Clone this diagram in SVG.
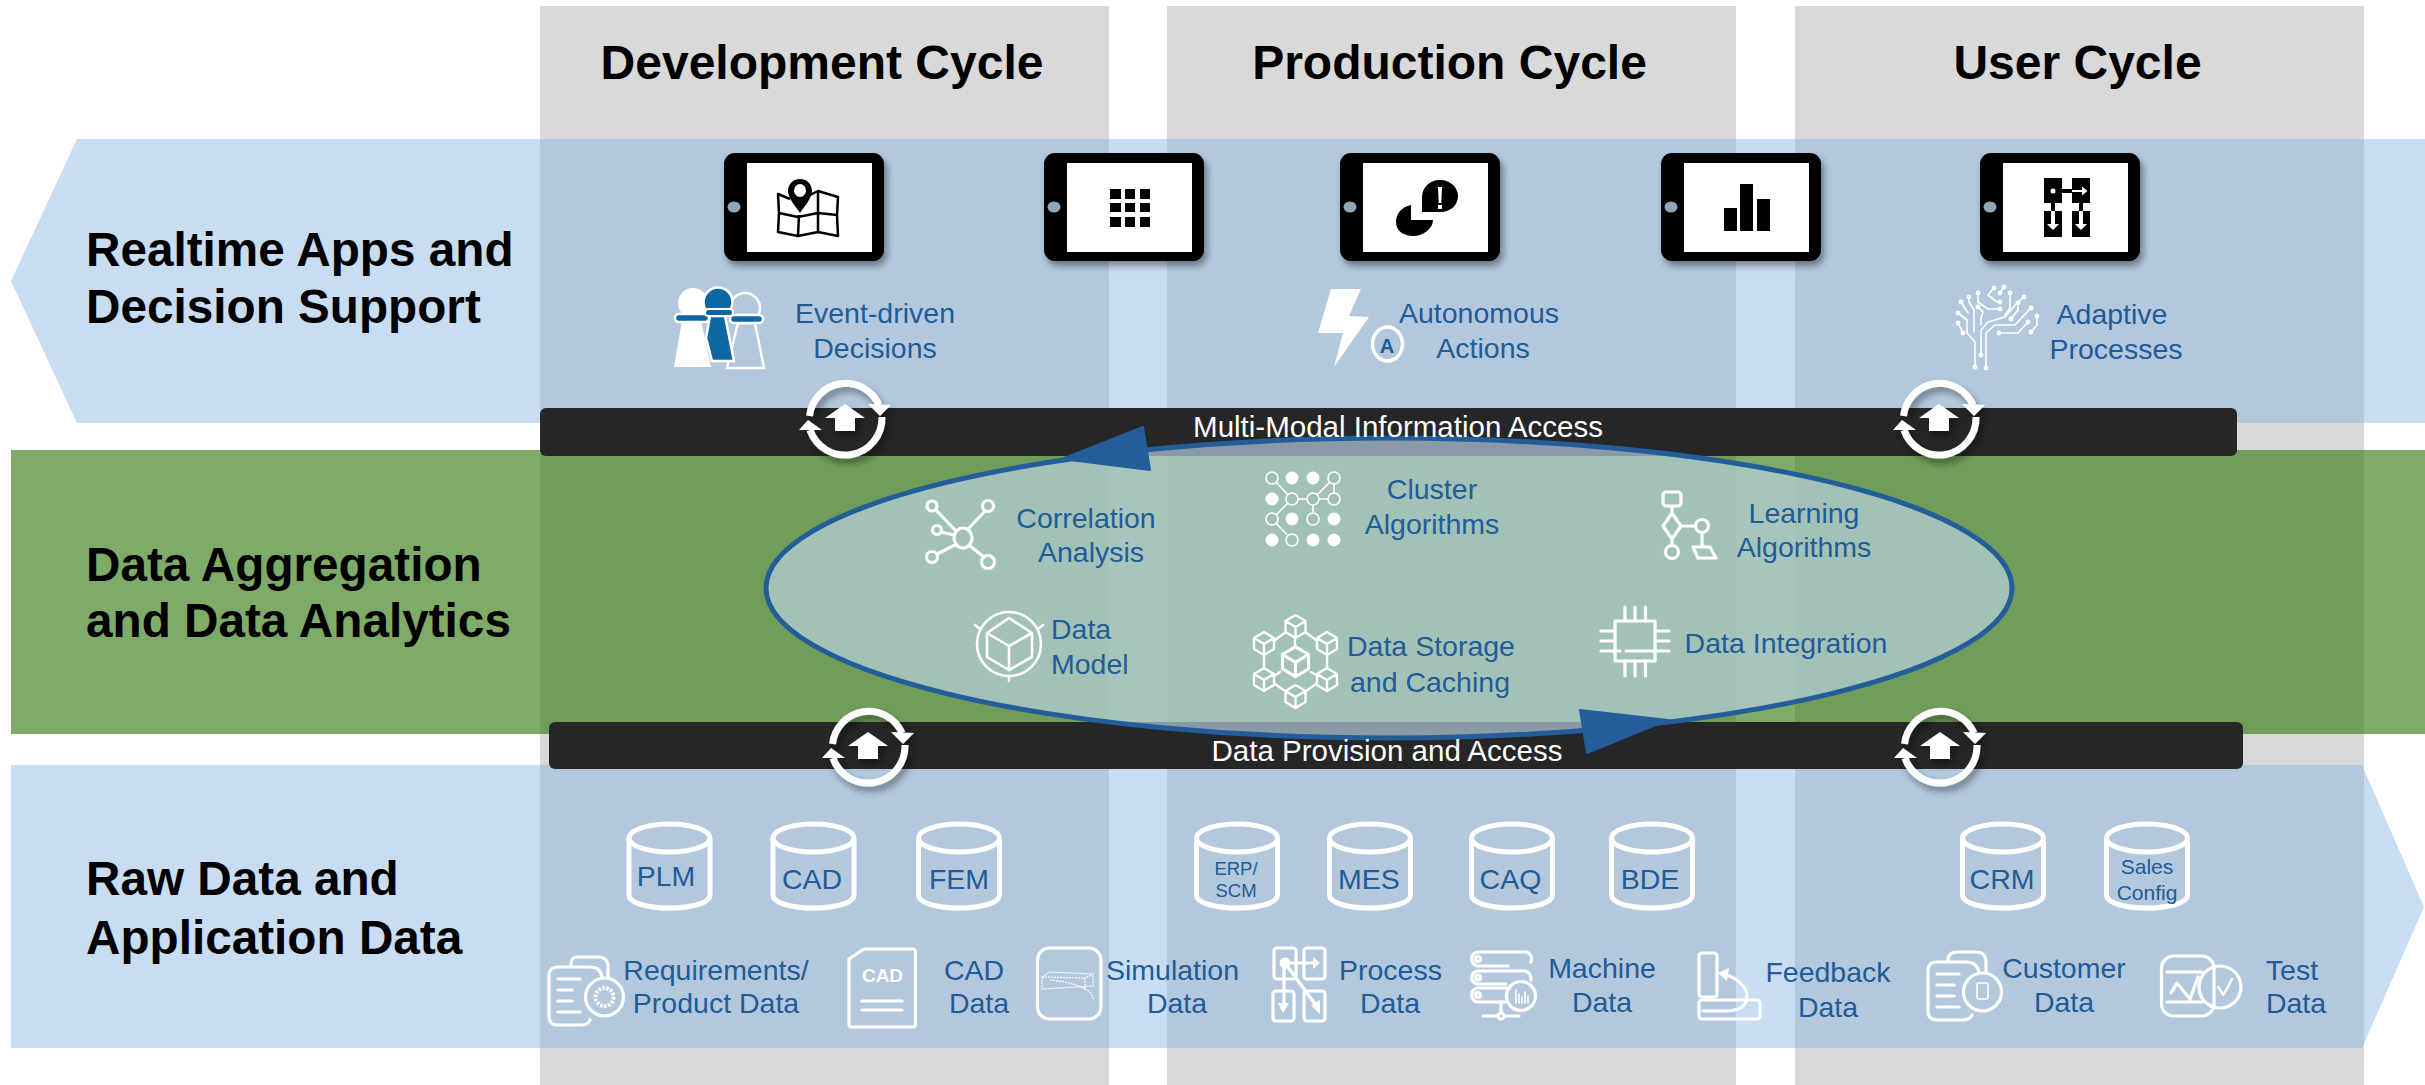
<svg xmlns="http://www.w3.org/2000/svg" xmlns:xlink="http://www.w3.org/1999/xlink" width="2425" height="1085" viewBox="0 0 2425 1085">
<style>
text{font-family:"Liberation Sans",Arial,sans-serif}
.col{fill:#d9d9d9}
.band{fill:rgb(133,180,226);fill-opacity:.45}
.head{font-size:48px;font-weight:bold;fill:#000;text-anchor:middle}
.side{font-size:47.7px;font-weight:bold;fill:#000}
.lbl{font-size:28.5px;fill:#215c98;text-anchor:middle}
.bar{fill:#262626}
.bart{font-size:29.5px;fill:#fff;text-anchor:middle}
.ic{fill:none;stroke:#fff;stroke-width:3.2;stroke-linejoin:round;stroke-linecap:round}
.thin{fill:none;stroke:#fff;stroke-width:1.6;stroke-linejoin:round;stroke-linecap:round}
.w{fill:#fff}
.db{fill:none;stroke:#fff;stroke-width:5}
.b{fill:#000}
</style>
<defs>
<filter id="sh" x="-20%" y="-20%" width="150%" height="150%"><feDropShadow dx="3" dy="5" stdDeviation="3.5" flood-color="#000" flood-opacity=".4"/></filter>
<g id="tablet">
<rect x="0" y="0" width="160" height="108" rx="11" fill="#000" filter="url(#sh)"/>
<rect x="23" y="10" width="125" height="89" fill="#fff"/>
<ellipse cx="10" cy="54" rx="6.500" ry="5.500" fill="#8fa5ba"/>
</g>
<g id="cycle" filter="url(#sh)">
<path d="M-35.500 -2A36.500 37 0 0 1 34 -13" fill="none" stroke="#fff" stroke-width="7"/>
<path d="M37 -1A37 37 0 0 1 -35 12" fill="none" stroke="#fff" stroke-width="7"/>
<polygon class="w" points="23,-14 46,-13 35,-2"/>
<polygon class="w" points="-46,12 -23,12 -37,2"/>
<polygon class="w" points="0,-14 20,0 10,0 10,13 -10,13 -10,0 -20,0"/>
</g>
<g id="db">
<path class="db" d="M-40.500 -42V15C-40.500 23 -22 28 0 28C22 28 40.500 23 40.500 15V-42"/>
<ellipse class="db" cx="0" cy="-42" rx="40.500" ry="14"/>
</g>
<g id="cube"><path class="ic" d="M0 -11L10 -5V6L0 12L-10 6V-5ZM-10 -5L0 1L10 -5M0 1V12" style="stroke-width:2.400"/></g>
</defs>

<g id="columns">
<rect class="col" x="540" y="6" width="569" height="1079"/>
<rect class="col" x="1167" y="6" width="569" height="1079"/>
<rect class="col" x="1795" y="6" width="569" height="1079"/>
</g>
<g id="bands">
<polygon class="band" points="77,139 2425,139 2425,423 77,423 11,281"/>
<rect x="11" y="450" width="2414" height="284" fill="rgb(52,122,16)" fill-opacity=".63"/>
<polygon class="band" points="11,765 2362,765 2424,907 2362,1048 11,1048"/>
</g>

<g id="bars">
<rect class="bar" x="540" y="408" width="1697" height="48" rx="6"/>
<rect class="bar" x="549" y="722" width="1694" height="47" rx="6"/>
</g>

<g id="connectors">
<ellipse cx="1389" cy="588" rx="623" ry="150" fill="#bad2e6" fill-opacity=".67" stroke="#245e9a" stroke-width="5"/>
<polygon points="1062,459 1143,427 1150,470" fill="#245e9a" stroke="#245e9a" stroke-width="2" stroke-linejoin="round"/>
<polygon points="1668,720 1580,710 1587,753" fill="#245e9a" stroke="#245e9a" stroke-width="2" stroke-linejoin="round"/>
</g>

<g id="col-heads">
<text class="head" x="822" y="79">Development Cycle</text>
<text class="head" x="1449.500" y="79">Production Cycle</text>
<text class="head" x="2077.500" y="79">User Cycle</text>
</g>
<g id="side-labels">
<text class="side" x="86" y="266">Realtime Apps and</text>
<text class="side" x="86" y="323">Decision Support</text>
<text class="side" x="86" y="581">Data Aggregation</text>
<text class="side" x="86" y="637">and Data Analytics</text>
<text class="side" x="86" y="895">Raw Data and</text>
<text class="side" x="86" y="954">Application Data</text>
</g>

<g id="tablet-map">
<use xlink:href="#tablet" href="#tablet" x="724" y="153"/>
<path fill="none" stroke="#000" stroke-width="2.500" stroke-linejoin="round" d="M790 199L778 194L779 213L778 232L798 236L818 232L838 236L837 215L838 197L818 191L810 195M779 213L798 217L818 213L837 215M799 215L798 236M818 191V232"/>
<path fill="#000" d="M800 179C792.500 179 788 185 788 191C788 198 796 207 800 213C804 207 812 198 812 191C812 185 807.500 179 800 179Z"/>
<ellipse cx="800" cy="190.500" rx="6" ry="6.500" fill="#fff"/>
</g>
<g id="tablet-grid">
<use xlink:href="#tablet" href="#tablet" x="1044" y="153"/>
<path fill="#000" d="M1110 189h11v10h-11zM1125 189h10v10h-10zM1140 189h10v10h-10zM1110 203h11v9h-11zM1125 203h10v9h-10zM1140 203h10v9h-10zM1110 217h11v10h-11zM1125 217h10v10h-10zM1140 217h10v10h-10z"/>
</g>
<g id="tablet-alert">
<use xlink:href="#tablet" href="#tablet" x="1340" y="153"/>
<path fill="#000" d="M1411 205C1401 207 1396 214 1396 222C1396 231 1404 236 1413 236C1424 236 1433 228 1433 220H1411Z"/>
<path fill="#000" d="M1440 180C1429 180 1422 188 1422 197V212H1440C1451 212 1458 205 1458 196C1458 188 1451 180 1440 180Z"/>
<path fill="#fff" d="M1438 187h4l-.7 16h-2.600zM1438 205h4v4h-4z"/>
</g>
<g id="tablet-chart">
<use xlink:href="#tablet" href="#tablet" x="1661" y="153"/>
<path fill="#000" d="M1724 208h13v23h-13zM1740 184h13v47h-13zM1757 199h13v32h-13z"/>
</g>
<g id="tablet-process">
<use xlink:href="#tablet" href="#tablet" x="1980" y="153"/>
<path fill="#000" d="M2044 178h18v25h-18zM2072 178h18v25h-18zM2044 211h18v26h-18zM2072 211h18v26h-18zM2062 189h10v4h-10zM2051 203h4v8h-4zM2079 203h4v8h-4z"/>
<circle cx="2053" cy="191" r="2.500" fill="#fff"/>
<path fill="#fff" d="M2072 190h10v-3.500l5.500 4.500l-5.500 4.500v-3.500h-10zM2051 211h4v13h4l-6 6l-6 -6h4zM2079 211h4v13h4l-6 6l-6 -6h4z"/>
</g>

<g id="event-driven">
<g>
<circle cx="693" cy="303" r="15" class="w"/>
<path class="w" d="M682 320H701L711 367H674Z"/>
<rect x="675" y="314" width="34" height="8" rx="4" fill="#0f66a5" stroke="#fff" stroke-width="2.500"/>
<path d="M738 323H755L764 368H727Z" fill="none" stroke="#fff" stroke-width="2.500"/>
<circle cx="745" cy="308" r="15" fill="none" stroke="#fff" stroke-width="2.500"/>
<rect x="730" y="315" width="33" height="8" rx="4" fill="#0f66a5" stroke="#fff" stroke-width="2.500"/>
<circle cx="718" cy="302" r="14.500" fill="#0f66a5" stroke="#fff" stroke-width="2.500"/>
<path d="M710 316H725L734 361H712L706 338Z" fill="#0f66a5" stroke="#fff" stroke-width="2.500"/>
<rect x="705" y="309" width="28" height="7" rx="3.500" fill="#0f66a5" stroke="#fff" stroke-width="2"/>
</g>
<text class="lbl" x="875" y="323">Event-driven</text>
<text class="lbl" x="875" y="358">Decisions</text>
</g>
<g id="autonomous">
<polygon class="w" points="1331,289 1361,289 1349,316 1369,317 1334,367 1343,333 1318,333"/>
<ellipse cx="1387.500" cy="344" rx="15" ry="17" fill="none" stroke="#fff" stroke-width="3.500"/>
<text x="1387" y="353" font-size="20" font-weight="bold" fill="#215c98" text-anchor="middle">A</text>
<text class="lbl" x="1479" y="323">Autonomous</text>
<text class="lbl" x="1483" y="358">Actions</text>
</g>
<g id="adaptive">
<path class="thin" d="M1975 367V342L1967 333V320L1958 313M1981 355V330L1988 322L2005 317L2017 303L2024 297M1986 368V333L1995 325H2015L2031 308M1999 333H2018L2028 322M1974 332V310L1969 302V297M1963 333L1958 323M1968 313L1961 302M1981 325V318L1983 312L1978 307M1978 293V302L1988 309H2000M1994 288L1988 295L1997 302H2000M2000 293L2004 287M2010 293V308L2005 315M2011 319L2018 310V303M2031 332L2037 325V316"/>
<g class="thin"><circle cx="1975" cy="367" r="1.600"/><circle cx="1981" cy="355" r="1.600"/><circle cx="1986" cy="368" r="1.600"/><circle cx="1958" cy="313" r="1.600"/><circle cx="2024" cy="297" r="1.600"/><circle cx="2031" cy="308" r="1.600"/><circle cx="1999" cy="333" r="1.600"/><circle cx="2028" cy="322" r="1.600"/><circle cx="1969" cy="297" r="1.600"/><circle cx="1963" cy="333" r="1.600"/><circle cx="1958" cy="323" r="1.600"/><circle cx="1961" cy="302" r="1.600"/><circle cx="1978" cy="307" r="1.600"/><circle cx="1978" cy="293" r="1.600"/><circle cx="2000" cy="309" r="1.600"/><circle cx="1994" cy="288" r="1.600"/><circle cx="2000" cy="302" r="1.600"/><circle cx="2000" cy="293" r="1.600"/><circle cx="2004" cy="287" r="1.600"/><circle cx="2010" cy="293" r="1.600"/><circle cx="2011" cy="319" r="1.600"/><circle cx="2018" cy="303" r="1.600"/><circle cx="2031" cy="332" r="1.600"/><circle cx="2037" cy="316" r="1.600"/></g>
<text class="lbl" x="2112" y="324">Adaptive</text>
<text class="lbl" x="2116" y="359">Processes</text>
</g>

<g id="cycle-top-left"><use xlink:href="#cycle" href="#cycle" x="845" y="418"/></g>
<g id="cycle-top-right"><use xlink:href="#cycle" href="#cycle" x="1939" y="418"/></g>
<g id="cycle-bottom-left"><use xlink:href="#cycle" href="#cycle" x="868" y="746"/></g>
<g id="cycle-bottom-right"><use xlink:href="#cycle" href="#cycle" x="1940" y="746"/></g>

<text id="multi-modal" class="bart" x="1398" y="437">Multi-Modal Information Access</text>
<text id="data-provision" class="bart" x="1387" y="761">Data Provision and Access</text>

<g id="correlation">
<path class="ic" d="M956 531L936 510M968 529L985 511M954 535L941 532M955 545L937 554M970 546L984 557"/>
<ellipse class="ic" cx="963" cy="538" rx="9" ry="10"/>
<circle class="ic" cx="932" cy="506" r="5"/><circle class="ic" cx="988" cy="506" r="5.500"/><circle class="ic" cx="937" cy="530" r="4.500"/><circle class="ic" cx="932" cy="557" r="5.500"/><circle class="ic" cx="988" cy="562" r="6.500"/>
<text class="lbl" x="1086" y="528">Correlation</text>
<text class="lbl" x="1091" y="562">Analysis</text>
</g>
<g id="cluster">
<path class="thin" d="M1272 478L1292 499H1334M1313 499L1334 478V499M1292 499L1272 519L1292 540M1313 499V519"/>
<g class="thin" style="fill:#a3c0b8"><circle cx="1272" cy="478" r="6"/><circle cx="1334" cy="478" r="6"/><circle cx="1292" cy="499" r="6"/><circle cx="1313" cy="499" r="6"/><circle cx="1334" cy="499" r="6"/><circle cx="1272" cy="519" r="6"/><circle cx="1313" cy="519" r="6"/><circle cx="1292" cy="540" r="6"/></g>
<g class="w"><circle cx="1292" cy="478" r="6.500"/><circle cx="1313" cy="478" r="6.500"/><circle cx="1272" cy="499" r="6.500"/><circle cx="1292" cy="519" r="6.500"/><circle cx="1334" cy="519" r="6.500"/><circle cx="1272" cy="540" r="6.500"/><circle cx="1313" cy="540" r="6.500"/><circle cx="1334" cy="540" r="6.500"/></g>
<text class="lbl" x="1432" y="499">Cluster</text>
<text class="lbl" x="1432" y="534">Algorithms</text>
</g>
<g id="learning">
<rect class="ic" x="1663" y="492" width="18" height="14" rx="3"/>
<path class="ic" d="M1672 506V513M1672 513L1681 526L1672 539L1663 526ZM1681 526H1695M1672 539V545M1702 533V547M1693 547H1710L1716 558H1698Z"/>
<circle class="ic" cx="1702" cy="526" r="6.500"/><circle class="ic" cx="1672" cy="552" r="6.500"/>
<text class="lbl" x="1804" y="523">Learning</text>
<text class="lbl" x="1804" y="557">Algorithms</text>
</g>
<g id="data-model">
<circle class="ic" cx="1009" cy="644" r="32" style="stroke-width:2.600"/>
<path class="ic" style="stroke-width:2.600" d="M1009 618L1032 633V657L1009 670L987 657V633ZM987 633L1009 646L1032 633M1009 646V670M1009 676V681M975 625L980 629M1043 625L1038 629"/>
<text class="lbl" x="1051" y="639" style="text-anchor:start">Data</text>
<text class="lbl" x="1051" y="674" style="text-anchor:start">Model</text>
</g>
<g id="data-storage">
<path class="thin" style="stroke-width:2.400" d="M1305 632L1316 640M1286 632L1275 640M1264 656V667M1327 656V667M1275 684L1285 691M1316 684L1306 691M1295 639V645M1280 672L1274 676M1311 672L1318 676"/>
<use xlink:href="#cube" href="#cube" x="1295.500" y="626"/><use xlink:href="#cube" href="#cube" x="1327" y="643"/><use xlink:href="#cube" href="#cube" x="1327" y="679"/><use xlink:href="#cube" href="#cube" x="1295.500" y="696"/><use xlink:href="#cube" href="#cube" x="1264" y="679"/><use xlink:href="#cube" href="#cube" x="1264" y="643"/>
<use xlink:href="#cube" href="#cube" transform="translate(1295.500 661) scale(1.3)"/>
<text class="lbl" x="1431" y="656">Data Storage</text>
<text class="lbl" x="1430" y="692">and Caching</text>
</g>
<g id="data-integration">
<rect class="ic" x="1615" y="621" width="40" height="40"/>
<path class="ic" d="M1625 607V621M1635 607V621M1645.500 607V621M1625 661V676M1635 661V676M1645.500 661V676M1601 631H1615M1601 641H1615M1601 651H1620M1655 631H1669M1655 641H1669M1655 651H1669M1626 651H1654"/>
<text class="lbl" x="1786" y="653">Data Integration</text>
</g>

<g id="db-plm"><use xlink:href="#db" href="#db" x="669.500" y="880"/><text class="lbl" x="666" y="886">PLM</text></g>
<g id="db-cad"><use xlink:href="#db" href="#db" x="813.500" y="880"/><text class="lbl" x="812" y="889">CAD</text></g>
<g id="db-fem"><use xlink:href="#db" href="#db" x="959" y="880"/><text class="lbl" x="959" y="889">FEM</text></g>
<g id="db-erp"><use xlink:href="#db" href="#db" x="1237" y="880"/><text class="lbl" x="1236" y="875" style="font-size:18.500px">ERP/</text><text class="lbl" x="1236" y="897" style="font-size:18.500px">SCM</text></g>
<g id="db-mes"><use xlink:href="#db" href="#db" x="1370" y="880"/><text class="lbl" x="1369" y="889">MES</text></g>
<g id="db-caq"><use xlink:href="#db" href="#db" x="1512" y="880"/><text class="lbl" x="1510.500" y="889">CAQ</text></g>
<g id="db-bde"><use xlink:href="#db" href="#db" x="1652" y="880"/><text class="lbl" x="1650" y="889">BDE</text></g>
<g id="db-crm"><use xlink:href="#db" href="#db" x="2003" y="880"/><text class="lbl" x="2002" y="889">CRM</text></g>
<g id="db-sales"><use xlink:href="#db" href="#db" x="2147" y="880"/><text class="lbl" x="2147" y="874" style="font-size:21px">Sales</text><text class="lbl" x="2147" y="900" style="font-size:21px">Config</text></g>

<g id="requirements">
<path class="ic" d="M571 967V964Q571 957 578 957H598Q608 957 608 967V978M590 1020Q588 1025 582 1025H558Q549 1025 549 1016V976Q549 967 558 967H590Q601 967 602 978"/>
<path class="ic" d="M558 979H580M558 990H572M558 1001H572M558 1012H580"/>
<circle class="ic" cx="604.500" cy="997" r="19"/>
<circle cx="604.500" cy="997" r="9" fill="none" stroke="#fff" stroke-width="4" stroke-dasharray="2.500 1.500"/>
<text class="lbl" x="716" y="980">Requirements/</text>
<text class="lbl" x="716" y="1013">Product Data</text>
</g>
<g id="cad-data">
<path class="ic" d="M849 959L864 949H912Q915.500 949 915.500 952V1024Q915.500 1027 912 1027H852Q849 1027 849 1024Z"/>
<text x="882.500" y="982" font-size="19" font-weight="bold" fill="#fff" text-anchor="middle">CAD</text>
<path class="ic" d="M862 1001H902M862 1010H902"/>
<text class="lbl" x="974" y="980">CAD</text>
<text class="lbl" x="979" y="1013">Data</text>
</g>
<g id="simulation-data">
<rect class="ic" x="1037.500" y="948" width="63.500" height="71" rx="12"/>
<path fill="none" stroke="#fff" stroke-width="1.200" stroke-dasharray="2 1" d="M1042 977L1050 972L1093 974V986L1042 989ZM1042 977L1085 978L1093 974M1085 978V989M1050 980Q1075 982 1090 992L1094 1000"/>
<text class="lbl" x="1172.500" y="980">Simulation</text>
<text class="lbl" x="1177" y="1013">Data</text>
</g>
<g id="process-data">
<rect class="ic" x="1274" y="948" width="22" height="31" rx="3"/><rect class="ic" x="1304" y="948" width="21" height="31" rx="3"/>
<rect class="ic" x="1273" y="991" width="21" height="30" rx="3"/><rect class="ic" x="1304" y="991" width="21" height="30" rx="3"/>
<circle class="w" cx="1285" cy="963" r="5.500"/>
<path class="ic" d="M1285 963H1314M1284 963V1004M1285 963L1315 1004"/>
<path class="w" d="M1313 957L1320 963L1313 969ZM1278 1003H1289L1283 1013ZM1311 1005L1320 1000L1320 1014Z"/>
<text class="lbl" x="1390.500" y="980">Process</text>
<text class="lbl" x="1390" y="1013">Data</text>
</g>
<g id="machine-data">
<path class="ic" d="M1508 966H1478A6.500 7 0 0 1 1478 952H1525A6.500 7 0 0 1 1531 962M1506 984H1478A6.500 6.500 0 0 1 1478 971H1525Q1531 972 1531 980M1506 1002H1478A6.500 7 0 0 1 1478 988H1510"/>
<circle class="ic" cx="1478" cy="959" r="2.500"/><circle class="ic" cx="1478" cy="977.500" r="2.500"/><circle class="ic" cx="1478" cy="995" r="2.500"/>
<circle class="ic" cx="1521" cy="996" r="14.500"/>
<path class="thin" d="M1516 990V1003M1519 994V1003M1522 997V1003M1525 992V1003M1528 996V1003"/>
<path class="ic" d="M1501 1002V1013M1483 1016H1498M1504 1016H1519"/>
<circle class="ic" cx="1501" cy="1016" r="3"/>
<text class="lbl" x="1602" y="978">Machine</text>
<text class="lbl" x="1602" y="1012">Data</text>
</g>
<g id="feedback-data">
<rect class="ic" x="1699" y="953" width="18" height="44" rx="3"/>
<rect class="ic" x="1699" y="1000" width="61" height="19" rx="3"/>
<path class="ic" d="M1703 1011H1725C1743 1011 1747 1003 1747 996C1747 986 1735 977 1724 974"/>
<path class="w" d="M1718 973L1729 968L1727 981Z"/>
<text class="lbl" x="1828" y="982">Feedback</text>
<text class="lbl" x="1828" y="1017">Data</text>
</g>
<g id="customer-data">
<path class="ic" d="M1948 962V960Q1948 952 1958 952H1976Q1986 952 1986 962V972M1972 1015Q1970 1020 1962 1020H1937Q1928 1020 1928 1011V971Q1928 962 1937 962H1966Q1977 962 1979 972"/>
<path class="ic" d="M1937 974H1959M1937 985H1954M1937 996H1954M1937 1007H1959"/>
<circle class="ic" cx="1982.500" cy="992" r="19"/>
<rect class="thin" x="1977" y="983" width="11" height="16" rx="1.500"/>
<text class="lbl" x="2064" y="978">Customer</text>
<text class="lbl" x="2064" y="1012">Data</text>
</g>
<g id="test-data">
<rect class="ic" x="2161.500" y="956" width="52.500" height="60" rx="12"/>
<path class="ic" d="M2167 972H2202M2167 1002H2202M2171 993L2177 983L2190 999L2198 977"/>
<circle class="ic" cx="2220" cy="987" r="21"/>
<path class="ic" style="stroke-width:2.400" d="M2218 987L2223.500 995L2232 979"/>
<text class="lbl" x="2292" y="980">Test</text>
<text class="lbl" x="2296" y="1013">Data</text>
</g>
</svg>
